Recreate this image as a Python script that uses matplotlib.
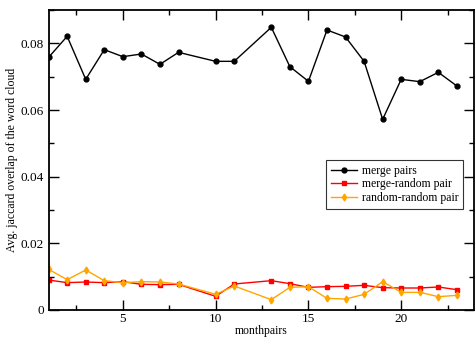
import numpy as np
import matplotlib
matplotlib.use('Agg')
import matplotlib.pyplot as plt
from matplotlib.ticker import MultipleLocator

plt.rcParams['font.family'] = ['Liberation Serif', 'DejaVu Serif']

months = [1, 2, 3, 4, 5, 6, 7, 8, 10, 11, 13, 14, 15, 16, 17, 18, 19, 20, 21, 22, 23]
merge_pairs = [0.0758, 0.0821, 0.0692, 0.0781, 0.0760, 0.0768, 0.0737, 0.0773, 0.0746, 0.0746,
               0.0848, 0.0730, 0.0686, 0.0840, 0.0819, 0.0746, 0.0572, 0.0692, 0.0685, 0.0713, 0.0672]
merge_random = [0.0090, 0.0082, 0.0084, 0.0082, 0.0085, 0.0077, 0.0076, 0.0077, 0.0041, 0.0078,
                0.0088, 0.0079, 0.0068, 0.0070, 0.0071, 0.0074, 0.0067, 0.0066, 0.0066, 0.0069, 0.0061]
random_random = [0.0122, 0.0091, 0.0120, 0.0088, 0.0082, 0.0085, 0.0084, 0.0078, 0.0047, 0.0072,
                 0.0031, 0.0068, 0.0070, 0.0035, 0.0033, 0.0047, 0.0085, 0.0053, 0.0053, 0.0040, 0.0044]

fig = plt.figure(figsize=(4.75, 3.37), dpi=100)
ax = fig.add_axes([48.6/475, 1 - 310/337, 425/475, 300/337])

ax.plot(months, merge_pairs, color='black', lw=1, marker='o', ms=3.5, label='merge pairs')
ax.plot(months, merge_random, color='#ff0000', lw=1, marker='s', ms=3, label='merge-random pair')
ax.plot(months, random_random, color='#ffa500', lw=1, marker='d', ms=3.5, label='random-random pair')

ax.set_xlim(1, 23.9)
ax.set_ylim(0, 0.09)
ax.xaxis.set_major_locator(MultipleLocator(5))
ax.xaxis.set_minor_locator(MultipleLocator(2.5))
ax.yaxis.set_minor_locator(MultipleLocator(0.01))
ax.set_yticks([0, 0.02, 0.04, 0.06, 0.08])
ax.set_yticklabels(['0', '0.02', '0.04', '0.06', '0.08'])
ax.tick_params(which='both', direction='in', top=True, right=True, labelsize=9.5, width=1)
ax.tick_params(which='major', length=7)
ax.tick_params(which='minor', length=3.5)
ax.tick_params(axis='x', pad=2)
for s in ax.spines.values():
    s.set_linewidth(1.3)

ax.set_xlabel('monthpairs', fontsize=8.5, labelpad=0)
ax.set_ylabel('Avg. jaccard overlap of the word cloud', fontsize=8.5, labelpad=2)

leg = ax.legend(loc='upper left', bbox_to_anchor=(0.653, 0.5), fontsize=8.5, frameon=True,
                fancybox=False, edgecolor='black', borderpad=0.4, handlelength=2.2,
                labelspacing=0.15, handletextpad=0.4, borderaxespad=0)
leg.get_frame().set_linewidth(0.8)

fig.savefig('out.png', dpi=100)
